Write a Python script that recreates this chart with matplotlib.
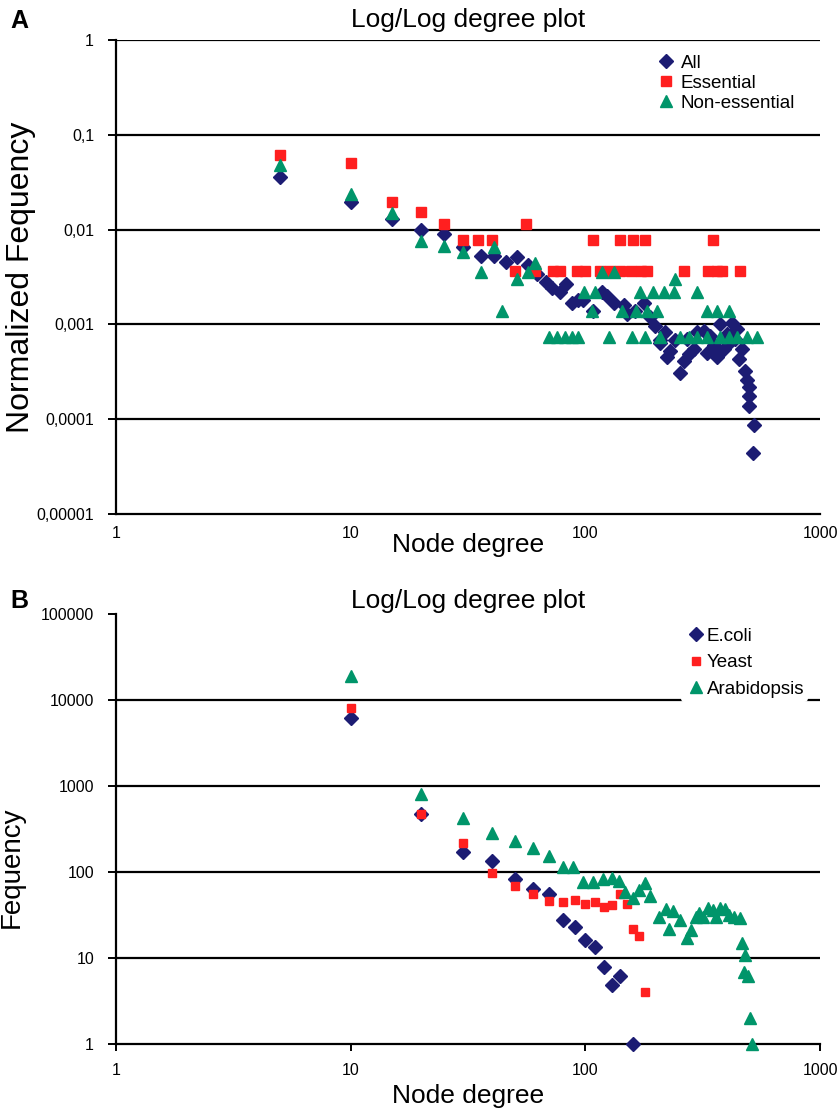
import matplotlib.pyplot as plt
from matplotlib.ticker import FixedLocator, FixedFormatter, NullLocator

plt.rcParams['font.family'] = ['Liberation Sans', 'DejaVu Sans']

# ---- panel A : normalized frequency ----
all_x = [5, 10, 15, 20, 25, 30, 36, 41, 46, 51, 57, 62, 68, 72, 78, 83, 88, 93, 98,
         108, 118, 124, 132, 146, 151, 163, 177, 189, 199, 209, 209, 219, 223, 230,
         242, 254, 263, 276, 290, 299, 319, 330, 352, 364, 376, 389, 408, 422, 444,
         451, 466, 481, 489, 497, 497, 497, 522, 519, 270, 340, 400, 435]
all_y = [0.0359, 0.0194, 0.013, 0.01, 0.0089, 0.0065, 0.0053, 0.0053, 0.0045, 0.0052,
         0.0042, 0.0034, 0.0028, 0.0024, 0.0022, 0.0027, 0.0017, 0.0018, 0.0018,
         0.0014, 0.0022, 0.002, 0.0017, 0.0016, 0.0013, 0.0014, 0.0017, 0.0012,
         0.00096, 0.00064, 0.00069, 0.00083, 0.00045, 0.00053, 0.00069, 0.00031,
         0.00041, 0.00049, 0.00055, 0.00083, 0.00085, 0.0005, 0.0006, 0.00045,
         0.001, 0.00055, 0.00064, 0.00103, 0.00089, 0.00043, 0.00055, 0.00032,
         0.00026, 0.00022, 0.000176, 0.000137, 0.0000865, 0.0000439, 0.0007,
         0.00075, 0.0008, 0.0007]

ess_x = [5, 10, 15, 20, 25, 30, 35, 40, 56, 50, 61, 73, 78, 92, 100, 116, 128, 141,
         156, 172, 184, 264, 334, 365, 383, 458, 108, 141, 160, 180, 351]
ess_y = [0.0617, 0.050, 0.0194, 0.0152, 0.0115, 0.0077, 0.0077, 0.0077, 0.0115,
         0.0037, 0.0037, 0.0037, 0.0037, 0.0037, 0.0037, 0.0037, 0.0037, 0.0037,
         0.0037, 0.0037, 0.0037, 0.0037, 0.0037, 0.0037, 0.0037, 0.0037,
         0.0077, 0.0077, 0.0077, 0.0077, 0.0077]

non_x = [5, 10, 15, 20, 25, 30, 36, 41, 44, 51, 57, 61, 70, 76, 82, 88, 93, 99, 107,
         110, 118, 126, 132, 144, 158, 171, 180, 184, 195, 202, 209, 216, 238, 242,
         254, 276, 299, 330, 299, 330, 364, 408, 376, 408, 444, 489, 540, 165]
non_y = [0.048, 0.024, 0.015, 0.0075, 0.0067, 0.0058, 0.0036, 0.0066, 0.0014, 0.003,
         0.0036, 0.0044, 0.00074, 0.00074, 0.00074, 0.00074, 0.00074, 0.0022, 0.0014,
         0.0022, 0.0036, 0.00074, 0.0036, 0.0014, 0.00074, 0.0022, 0.00074, 0.0014,
         0.0022, 0.0014, 0.00074, 0.0022, 0.0022, 0.003, 0.00074, 0.00074, 0.00074,
         0.00074, 0.0022, 0.0014, 0.0014, 0.0014, 0.00074, 0.00074, 0.00074,
         0.00074, 0.00074, 0.0014]

# ---- panel B : frequency ----
eco_x = [10, 20, 30, 40, 50, 60, 70, 80, 90, 100, 110, 120, 130, 140, 160]
eco_y = [6120, 468, 170, 136, 83, 63, 55, 28, 23, 16.2, 13.5, 7.9, 4.9, 6.1, 1]

yst_x = [10, 20, 30, 40, 50, 60, 70, 80, 90, 100, 110, 120, 130, 140, 150, 160, 170, 180]
yst_y = [8000, 468, 215, 98, 68, 55, 46, 44.5, 47, 43, 44.5, 39.5, 41.3, 55, 43, 22, 18, 4]

ara_x = [10, 20, 30, 40, 50, 60, 70, 80, 89, 98, 108, 119, 130, 139, 148, 160, 169,
         179, 188, 207, 221, 236, 227, 254, 271, 282, 297, 305, 318, 333, 350, 360,
         375, 392, 410, 430, 455, 466, 481, 473, 494, 503, 514]
ara_y = [18900, 807, 430, 282, 231, 189, 155, 115, 115, 77, 77, 82, 84.5, 79, 59,
         49.5, 62, 74, 52.5, 30, 37, 35.5, 22, 27.7, 17, 21, 30, 33, 30, 38, 36, 30,
         38, 37, 32, 30, 29, 14.8, 10.8, 6.9, 6.1, 2, 1]

navy = '#1c1c73'
red = '#ff1f1f'
green = '#00956a'

fig = plt.figure(figsize=(8.38, 11.1), dpi=100)
axA = fig.add_axes([116/838, 1-514/1110, (820-116)/838, 474/1110])
axB = fig.add_axes([116/838, 1-1044/1110, (820-116)/838, 430/1110])


def style_axis(ax, yticks, ylabels, gridvals):
    ax.set_xscale('log')
    ax.set_yscale('log')
    ax.set_xlim(1, 1000)
    ax.set_ylim(yticks[0], yticks[-1])
    for v in gridvals:
        ax.axhline(v, color='black', lw=1.6, zorder=1)
    ax.xaxis.set_major_locator(FixedLocator([1, 10, 100, 1000]))
    ax.xaxis.set_major_formatter(FixedFormatter(['1', '10', '100', '1000']))
    ax.yaxis.set_major_locator(FixedLocator(yticks))
    ax.yaxis.set_major_formatter(FixedFormatter(ylabels))
    ax.xaxis.set_minor_locator(NullLocator())
    ax.yaxis.set_minor_locator(NullLocator())
    ax.spines['top'].set_visible(False)
    ax.spines['right'].set_visible(False)
    ax.spines['left'].set_linewidth(1.6)
    ax.spines['bottom'].set_linewidth(1.6)
    ax.tick_params(axis='y', direction='out', length=5.8, width=1.4, labelsize=11.5, pad=10)
    ax.tick_params(axis='x', direction='out', length=5, width=1.4, labelsize=11.5, pad=9)


style_axis(axA, [1e-5, 1e-4, 1e-3, 1e-2, 1e-1, 1],
           ['0,00001', '0,0001', '0,001', '0,01', '0,1', '1'],
           [1e-4, 1e-3, 1e-2, 1e-1, 1])
axA.tick_params(axis='x', length=0)
axA.plot(all_x, all_y, 'D', color=navy, ms=7, ls='none', label='All', zorder=3)
axA.plot(ess_x, ess_y, 's', color=red, ms=7.5, ls='none', label='Essential', zorder=3)
axA.plot(non_x, non_y, '^', color=green, ms=9, ls='none', label='Non-essential', zorder=4)
axA.set_title('Log/Log degree plot', fontsize=19, pad=9)
axA.set_xlabel('Node degree', fontsize=19, labelpad=-6)
axA.set_ylabel('Normalized Fequency', fontsize=23, labelpad=0)
axA.legend(loc='upper right', frameon=False, fontsize=13.5, handletextpad=0.2,
           borderaxespad=0.0, labelspacing=0.15, bbox_to_anchor=(0.975, 0.985),
           handlelength=1.2)

style_axis(axB, [1, 10, 100, 1000, 10000, 100000],
           ['1', '10', '100', '1000', '10000', '100000'],
           [10, 100, 1000, 10000])
axB.plot(eco_x, eco_y, 'D', color=navy, ms=7, ls='none', label='E.coli', zorder=3,
         clip_on=False)
axB.plot(yst_x, yst_y, 's', color=red, ms=6, ls='none', label='Yeast', zorder=3,
         clip_on=False)
axB.plot(ara_x, ara_y, '^', color=green, ms=9, ls='none', label='Arabidopsis', zorder=4,
         clip_on=False)
axB.set_title('Log/Log degree plot', fontsize=19, pad=4)
axB.set_xlabel('Node degree', fontsize=19, labelpad=4)
axB.set_ylabel('Fequency', fontsize=20)
axB.yaxis.set_label_coords(-0.13, 0.41)
legB = axB.legend(loc='upper right', frameon=True, fontsize=13.5, handletextpad=0.0,
                  borderaxespad=0.0, labelspacing=0.5, bbox_to_anchor=(0.983, 0.977),
                  handlelength=1.2, borderpad=0.2)
legB.get_frame().set_edgecolor('none')
legB.get_frame().set_facecolor('white')
legB.get_frame().set_alpha(1)
legB.set_zorder(5)

fig.text(0.012, 0.975, 'A', fontsize=18, fontweight='bold')
fig.text(0.012, 0.452, 'B', fontsize=18, fontweight='bold')

fig.savefig('out.png', dpi=100)
